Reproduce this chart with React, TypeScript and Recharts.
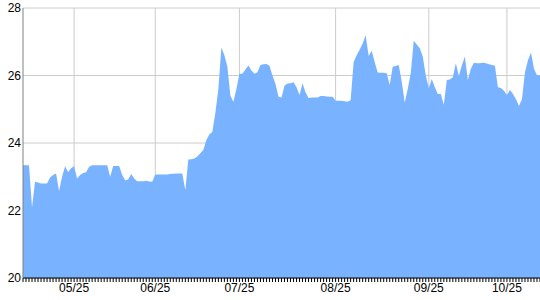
import { Area, AreaChart, CartesianGrid, XAxis, YAxis } from 'recharts'

// one value per trading day
const values = [
  23.34, 23.34, 23.34, 22.09, 22.85, 22.83, 22.8, 22.8, 22.8, 22.98,
  23.05, 23.1, 22.58, 23.0, 23.31, 23.14, 23.25, 23.31, 22.95, 23.05,
  23.11, 23.13, 23.3, 23.34, 23.34, 23.34, 23.34, 23.34, 23.34, 23.0,
  23.32, 23.32, 23.32, 23.05, 22.9, 22.92, 23.08, 22.95, 22.87, 22.87,
  22.87, 22.88, 22.86, 22.85, 23.07, 23.07, 23.07, 23.07, 23.07, 23.08,
  23.09, 23.1, 23.1, 23.1, 22.6, 23.51, 23.52, 23.54, 23.6, 23.7,
  23.79, 24.09, 24.25, 24.33, 24.9, 25.6, 26.83, 26.6, 26.26, 25.4,
  25.22, 25.6, 26.05, 26.05, 26.18, 26.3, 26.15, 26.05, 26.1, 26.31,
  26.33, 26.34, 26.29, 26.0, 25.75, 25.37, 25.35, 25.7, 25.76, 25.77,
  25.8, 25.65, 25.42, 25.77, 25.5, 25.33, 25.35, 25.35, 25.35, 25.39,
  25.39, 25.38, 25.37, 25.37, 25.25, 25.25, 25.25, 25.24, 25.22, 25.27,
  26.4, 26.6, 26.76, 26.95, 27.19, 26.58, 26.73, 26.4, 26.09, 26.08,
  26.08, 26.07, 25.72, 26.26, 26.28, 26.31, 25.82, 25.2, 25.6, 26.07,
  27.03, 26.92, 26.81, 26.56, 26.0, 25.62, 25.9, 25.65, 25.45, 25.45,
  25.13, 25.87, 25.88, 25.95, 26.36, 25.99, 26.3, 26.56, 25.87, 26.2,
  26.38, 26.36, 26.36, 26.38, 26.36, 26.33, 26.31, 26.29, 25.65, 25.63,
  25.55, 25.42, 25.57, 25.45, 25.3, 25.1, 25.3, 26.1, 26.45, 26.68,
  26.2, 26.01, 26.01,
]

const labelIdx = [17, 44, 72, 104, 135, 161]
const labelText = ['05/25', '06/25', '07/25', '08/25', '09/25', '10/25']
const yTicks = [20, 22, 24, 26, 28]

const data = values.map((v, i) => ({ i, v }))
const allIdx = values.map((_, i) => i)

const font = { fill: '#000', fontSize: 12, fontFamily: 'Liberation Sans, Arial, sans-serif' }

function fmtX(i: number) {
  const k = labelIdx.indexOf(i)
  return k >= 0 ? labelText[k] : ''
}

export default function App() {
  return (
    <div style={{ position: 'absolute', left: 0, top: 0 }}>
      <AreaChart width={540} height={300} data={data} margin={{ top: 8, right: 0, bottom: 0, left: 0 }}>
        <CartesianGrid stroke="#cccccc" verticalValues={labelIdx} />
        <XAxis
          dataKey="i"
          type="number"
          domain={[0, values.length - 1]}
          ticks={allIdx}
          interval={0}
          tickFormatter={fmtX}
          tick={font}
          tickSize={4}
          tickMargin={1}
          height={22}
          stroke="#000"
        />
        <YAxis
          domain={[20, 28]}
          ticks={yTicks}
          tick={font}
          tickLine={false}
          tickSize={0}
          width={23}
          stroke="#808080"
        />
        <Area
          type="linear"
          dataKey="v"
          stroke="none"
          fill="#79b3ff"
          fillOpacity={1}
          isAnimationActive={false}
        />
      </AreaChart>
    </div>
  )
}
